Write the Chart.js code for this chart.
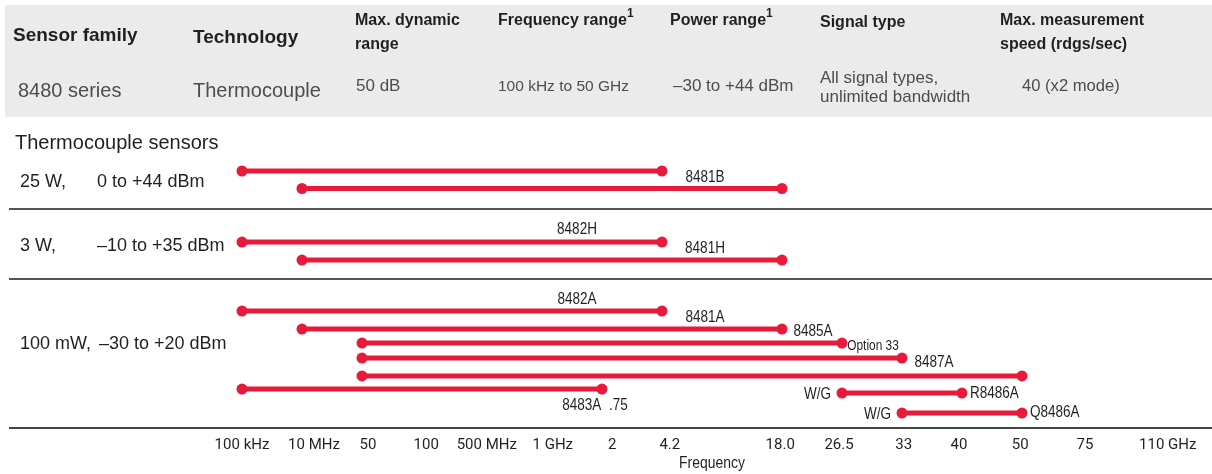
<!DOCTYPE html>
<html>
<head>
<meta charset="utf-8">
<script src="https://cdn.jsdelivr.net/npm/chart.js@4"></script>
<style>
  body { margin: 0; background: #fff; }
  #wrap { position: relative; width: 1212px; height: 474px; overflow: hidden; }
  #band { position: absolute; left: 5px; top: 5px; width: 1207px; height: 112px; background: #ebebeb; }
  #chart { position: absolute; left: 0; top: 0; }
  .t { position: absolute; white-space: nowrap; font-family: "Liberation Sans", Arial, sans-serif; color: #231f20; }
  .h { font-weight: bold; font-size: 16px; line-height: 24px; }
  .h sup { font-size: 12px; line-height: 0; position: relative; top: -2px; }
  .v { color: #4d4d4d; }
  .g { font-size: 18px; line-height: 22px; }
  .n { transform: scaleX(0.82); transform-origin: left center; }
</style>
</head>
<body>
<div id="wrap">
  <div id="band"></div>
  <canvas id="chart" width="1212" height="474"></canvas>

  <div class="t h" style="left:13px;top:23px;font-size:19px;">Sensor family</div>
  <div class="t h" style="left:193px;top:25px;font-size:19px;">Technology</div>
  <div class="t h" style="left:355px;top:8px;">Max. dynamic<br>range</div>
  <div class="t h" style="left:498px;top:8px;">Frequency range<sup>1</sup></div>
  <div class="t h" style="left:670px;top:8px;">Power range<sup>1</sup></div>
  <div class="t h" style="left:820px;top:10px;">Signal type</div>
  <div class="t h" style="left:1000px;top:8px;">Max. measurement<br>speed (rdgs/sec)</div>

  <div class="t v" style="left:18px;top:78px;font-size:20px;line-height:24px;">8480 series</div>
  <div class="t v" style="left:193px;top:78px;font-size:20px;line-height:24px;">Thermocouple</div>
  <div class="t v" style="left:356px;top:75px;font-size:17px;line-height:22px;">50 dB</div>
  <div class="t v" style="left:498px;top:75px;font-size:15.5px;line-height:22px;">100 kHz to 50 GHz</div>
  <div class="t v" style="left:673px;top:75px;font-size:17px;line-height:22px;">–30 to +44 dBm</div>
  <div class="t v" style="left:820px;top:68px;font-size:17px;line-height:19px;">All signal types,<br>unlimited bandwidth</div>
  <div class="t v" style="left:1022px;top:75px;font-size:16.6px;line-height:22px;">40 (x2 mode)</div>

  <div class="t" style="left:15px;top:130px;font-size:20px;line-height:24px;">Thermocouple sensors</div>

  <div class="t g" style="left:20px;top:170px;">25 W,</div>
  <div class="t g" style="left:97px;top:170px;">0 to +44 dBm</div>
  <div class="t g" style="left:20px;top:234px;">3 W,</div>
  <div class="t g" style="left:97px;top:234px;">–10 to +35 dBm</div>
  <div class="t g" style="left:20px;top:332px;">100 mW,</div>
  <div class="t g" style="left:99px;top:332px;">–30 to +20 dBm</div>

  <div class="t n" style="left:679px;top:453px;font-size:17px;line-height:20px;">Frequency</div>
</div>

<script>
// Frequency axis: tick labels and where they sit on the (index-like) axis
const freqTicks = ['100 kHz', '10 MHz', '50', '100', '500 MHz', '1 GHz', '2', '4.2', '18.0', '26.5', '33', '40', '50', '75', '110 GHz'];
const tickAt    = [0, 1.2, 2.1, 3.07, 4.08, 5.18, 6.17, 7.13, 8.97, 9.95, 11.03, 11.95, 12.97, 14.05, 15.43];

// Sensors: label shown, start / stop on the frequency axis, lane (row) in the list
const barLabels = ['', '8481B', '8482H', '8481H', '8482A', '8481A', '8485A', 'Option 33', '8487A', '8483A  .75', 'R8486A', 'Q8486A'];
const preLabels = ['', '', '', '', '', '', '', '', '', '', 'W/G', 'W/G'];
const bandFrom  = [0, 1, 0, 1, 0, 1, 2, 2, 2, 0, 10, 11];
const bandTo    = [7, 9, 7, 9, 7, 9, 10, 11, 13, 6, 12, 13];
const lanes     = [0, 1, 4.06, 5.09, 8, 9.03, 9.83, 10.69, 11.71, 12.46, 12.69, 13.83];

// group separators (lane units)
const separators = [2.17, 6.17];

// label placement (pixels from the bar end / start)
const labelStyle = [
  null,
  { dx: -77, dy: -11, align: 'center' },
  { dx: -85, dy: -13, align: 'center' },
  { dx: -77, dy: -12, align: 'center' },
  { dx: -85, dy: -12, align: 'center' },
  { dx: -77, dy: -12, align: 'center' },
  { dx: -29, dy: -12, align: 'center' },
  { dx: -29, dy: -12, align: 'center', size: 14.5 },
  { dx: -88, dy: -13, align: 'center' },
  { dx: -7, dy: 16, align: 'center' },
  { dx: 8, dy: 0, align: 'left' },
  { dx: 8, dy: -1, align: 'left' }
];
const preStyle = { dx: -11, dy: 1 };

const RED = '#e81a3b';
const SANS = '"Liberation Sans", Arial, sans-serif';

const datasets = barLabels.map((lbl, i) => ({
  label: lbl || 'sensor',
  data: [{ x: bandFrom[i], y: lanes[i] }, { x: bandTo[i], y: lanes[i] }],
  borderColor: RED,
  backgroundColor: RED,
  borderWidth: 5,
  pointRadius: 5.5,
  pointBorderWidth: 0,
  pointBackgroundColor: RED
}));

// condensed text: regular face squeezed horizontally
function narrowText(ctx, txt, x, y, align, size) {
  ctx.save();
  ctx.font = size + 'px ' + SANS;
  ctx.textAlign = align;
  ctx.textBaseline = 'middle';
  ctx.translate(x, y);
  ctx.scale(0.82, 1);
  ctx.fillText(txt, 0, 0);
  ctx.restore();
}

const textPlugin = {
  id: 'sensorText',
  beforeDatasetsDraw(chart) {
    const { ctx, chartArea, scales: { y } } = chart;
    ctx.save();
    ctx.strokeStyle = '#555';
    ctx.lineWidth = 2;
    separators.forEach(s => {
      const py = Math.round(y.getPixelForValue(s));
      ctx.beginPath();
      ctx.moveTo(chartArea.left - 1, py);
      ctx.lineTo(chartArea.right, py);
      ctx.stroke();
    });
    ctx.restore();
  },
  afterDatasetsDraw(chart) {
    const { ctx, scales: { x, y } } = chart;
    ctx.save();
    ctx.fillStyle = '#231f20';
    barLabels.forEach((txt, i) => {
      const py = y.getPixelForValue(lanes[i]);
      if (txt) {
        const st = labelStyle[i];
        narrowText(ctx, txt, x.getPixelForValue(bandTo[i]) + st.dx, py + st.dy, st.align, st.size || 16.5);
      }
      if (preLabels[i]) {
        narrowText(ctx, preLabels[i], x.getPixelForValue(bandFrom[i]) + preStyle.dx, py + preStyle.dy, 'right', 16.5);
      }
    });
    ctx.restore();
  }
};

new Chart(document.getElementById('chart'), {
  type: 'line',
  data: { datasets },
  options: {
    responsive: false,
    animation: false,
    layout: { autoPadding: false, padding: { left: 10, right: 0, top: 150, bottom: 21 } },
    plugins: { legend: { display: false }, tooltip: { enabled: false } },
    scales: {
      x: {
        type: 'linear',
        min: -3.8667,
        max: 16.1667,
        afterBuildTicks: s => { s.ticks = tickAt.map(v => ({ value: v })); },
        afterFit: s => { s.height = 25; s.paddingLeft = 0; s.paddingRight = 0; },
        ticks: {
          autoSkip: false,
          maxRotation: 0,
          padding: 8,
          color: '#231f20',
          font: { family: 'Roboto', size: 15 },
          callback: (v, i) => freqTicks[i]
        },
        grid: { display: false, drawTicks: false },
        border: { display: true, color: '#444', width: 2 }
      },
      y: {
        type: 'linear',
        display: false,
        reverse: true,
        min: -1.2,
        max: 14.686
      }
    }
  },
  plugins: [textPlugin]
});
</script>
</body>
</html>
